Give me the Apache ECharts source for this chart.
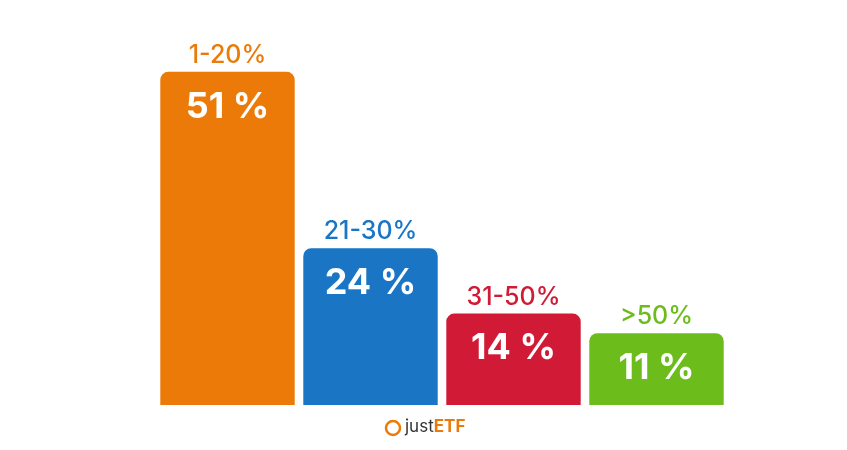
<!DOCTYPE html>
<html>
<head>
  <meta charset="utf-8">
  <script src="https://cdn.jsdelivr.net/npm/echarts@6/dist/echarts.min.js"></script>
</head>
<body style="margin:0">
<div id="main" style="width:847px;height:450px;"></div>
<script type="text/javascript">
  var categories = ['1-20%', '21-30%', '31-50%', '>50%'];
  var values = [51, 24, 14, 11];
  var colors = ['#ec7a08', '#1a75c4', '#d11a35', '#6cbd1b'];

  var myChart = echarts.init(document.getElementById('main'));
  var option = {
    backgroundColor: '#ffffff',
    grid: { left: 156, right: 119, top: 13, bottom: 45 },
    xAxis: {
      type: 'category',
      data: categories,
      axisLine: { show: false },
      axisTick: { show: false },
      axisLabel: { show: false }
    },
    yAxis: { type: 'value', min: 0, max: 60, show: false, splitLine: { show: false } },
    series: [
      {
        type: 'bar',
        barCategoryGap: '6%',
        data: values.map(function (v, i) {
          return { value: v, itemStyle: { color: colors[i] } };
        }),
        itemStyle: { borderRadius: [8, 8, 0, 0] },
        label: {
          show: true,
          position: 'insideTop',
          distance: 17,
          formatter: '{c} %',
          color: '#fff',
          fontFamily: 'Inter',
          fontWeight: 'bold',
          fontSize: 36
        }
      },
      {
        type: 'bar',
        barGap: '-100%',
        barCategoryGap: '6%',
        silent: true,
        data: values.map(function (v, i) {
          return { value: v, itemStyle: { color: 'transparent' },
            label: { color: colors[i] } };
        }),
        label: {
          show: true,
          position: 'top',
          distance: 4,
          formatter: function (p) { return categories[p.dataIndex]; },
          fontFamily: 'Inter',
          fontWeight: 500,
          fontSize: 25
        }
      }
    ],
    graphic: [
      { type: 'circle', shape: { cx: 393, cy: 428, r: 7 },
        style: { fill: 'none', stroke: '#ec7a08', lineWidth: 2.5 } },
      { type: 'text', left: 405, top: 418,
        style: { rich: {
          a: { fontFamily: 'Inter', fontSize: 17, fill: '#333' },
          b: { fontFamily: 'Inter', fontSize: 17, fontWeight: 'bold', fill: '#ec7a08' }
        }, text: '{a|just}{b|ETF}' } }
    ]
  };
  myChart.setOption(option);
</script>
</body>
</html>
